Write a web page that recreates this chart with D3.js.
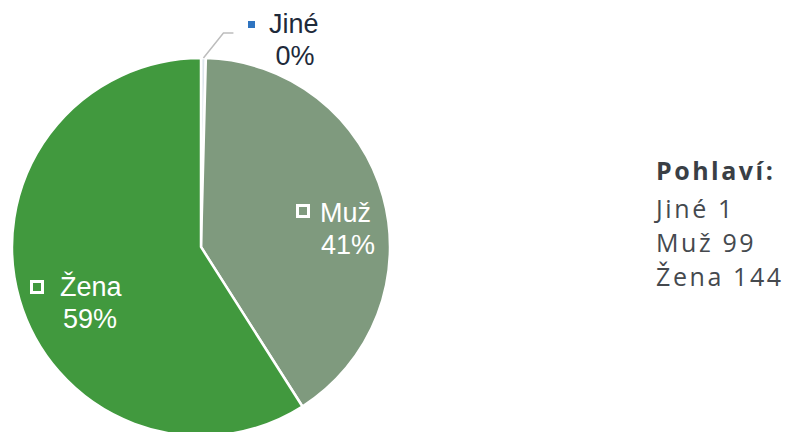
<!DOCTYPE html>
<html><head><meta charset="utf-8">
<script src="https://cdn.jsdelivr.net/npm/d3@7"></script>
<style>body{margin:0;background:#fff}svg{display:block}</style>
</head><body>
<svg id="c" width="787" height="432"></svg>
<script>
const categories = ["Jiné", "Muž", "Žena"];
const counts = [1, 99, 144];
const percentLabels = ["0%", "41%", "59%"];
const legendTitle = "Pohlaví:";

const colors = ["#dde5ec", "#7f9a7e", "#41993e"];
const svg = d3.select("#c");
const cx = 201, cy = 247, r = 189;
const data = categories.map((c, i) => ({cat: c, v: counts[i], pct: percentLabels[i], color: colors[i]}));
const pie = d3.pie().value(d => d.v).sort(null);
const arcs = pie(data);
const arc = d3.arc().innerRadius(0).outerRadius(r);
const g = svg.append("g").attr("transform", `translate(${cx},${cy})`);
g.selectAll("path").data(arcs).join("path")
  .attr("d", arc).attr("fill", d => d.data.color)
  .attr("stroke", "#fff").attr("stroke-width", 2.5);

// Jiné leader line
const a0 = arcs[0];
const mid = (a0.startAngle + a0.endAngle) / 2;
const p0 = [Math.sin(mid) * r, -Math.cos(mid) * r];
g.append("polyline")
  .attr("points", [p0, [p0[0] + 20, p0[1] - 25], [p0[0] + 30, p0[1] - 25]].map(p => p.join(",")).join(" "))
  .attr("fill", "none").attr("stroke", "#bdbdbd").attr("stroke-width", 1.5);

const font = "'Liberation Sans', Arial, sans-serif";
function label(mx, my, ms, tx, ty, cat, pct, pctX, textColor, markerFill, markerStroke) {
  const lg = svg.append("g");
  lg.append("rect").attr("x", mx).attr("y", my).attr("width", ms).attr("height", ms)
    .attr("fill", markerFill).attr("stroke", markerStroke || "none").attr("stroke-width", markerStroke ? 3 : 0);
  lg.append("text").attr("x", tx).attr("y", ty).text(cat)
    .attr("font-family", font).attr("font-size", 27).attr("fill", textColor);
  lg.append("text").attr("x", pctX).attr("y", ty + 32).text(pct).attr("text-anchor", "middle")
    .attr("font-family", font).attr("font-size", 27).attr("fill", textColor);
}
label(248, 21, 7, 269, 33, data[0].cat, data[0].pct, 295, "#1e2a3a", "#2f74c0", null);
label(297.5, 205.5, 11, 320, 222, data[1].cat, data[1].pct, 348, "#ffffff", "none", "#ffffff");
label(31.5, 281.5, 11, 60, 296, data[2].cat, data[2].pct, 90, "#ffffff", "none", "#ffffff");

const leg = svg.append("g").attr("font-family", "'Open Sans', sans-serif");
leg.append("text").attr("x", 656).attr("y", 180).text(legendTitle).attr("letter-spacing", "2.5px")
  .attr("font-size", 25).attr("font-weight", "bold").attr("fill", "#3a3f45");
data.forEach((d, i) => {
  leg.append("text").attr("x", 656).attr("y", 218 + i * 34).text(d.cat + " " + d.v)
    .attr("letter-spacing", "2.6px")
    .attr("font-size", 25).attr("fill", "#45494e");
});
</script>
</body></html>
